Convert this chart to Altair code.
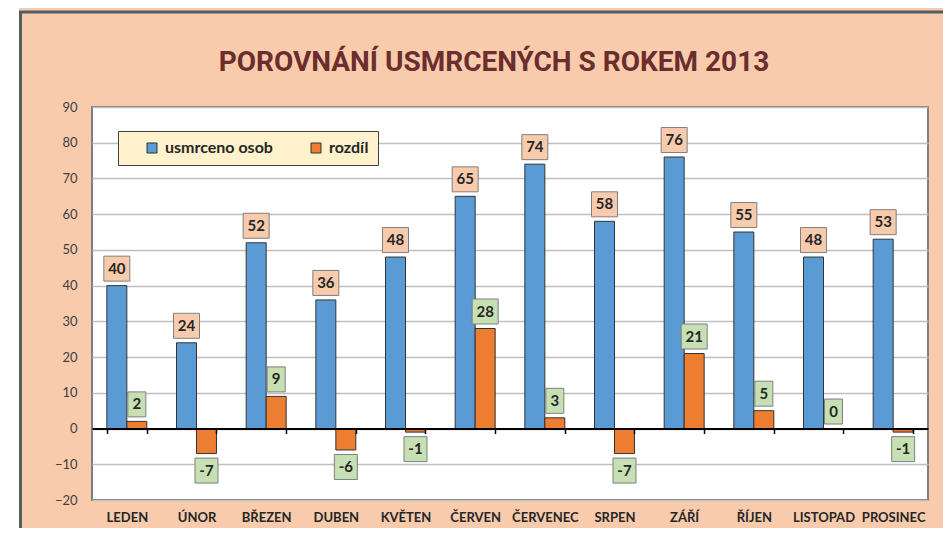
import altair as alt
import pandas as pd

months = ["LEDEN", "ÚNOR", "BŘEZEN", "DUBEN", "KVĚTEN", "ČERVEN",
          "ČERVENEC", "SRPEN", "ZÁŘÍ", "ŘÍJEN", "LISTOPAD", "PROSINEC"]
killed = [40, 24, 52, 36, 48, 65, 74, 58, 76, 55, 48, 53]
diff = [2, -7, 9, -6, -1, 28, 3, -7, 21, 5, 0, -1]
series_names = ["usmrceno osob", "rozdíl"]
y_ticks = [-20, -10, 0, 10, 20, 30, 40, 50, 60, 70, 80, 90]

rows = []
for m, k, d in zip(months, killed, diff):
    rows.append({"month": m, "series": series_names[0], "value": k, "label": str(k)})
    rows.append({"month": m, "series": series_names[1], "value": d, "label": str(d)})
df = pd.DataFrame(rows)

PEACH = "#F8CBAD"
BLUE = "#5B9BD5"
ORANGE = "#ED7D31"
GREEN = "#C6E0B4"
TXT = "#262626"
FONT = "Lato"

xenc = alt.X("month:N", sort=months, title=None,
             scale=alt.Scale(paddingInner=0.426, paddingOuter=0.213),
             axis=alt.Axis(orient="bottom", offset=-71.5, domainColor="#000000",
                           domainWidth=2, tickColor="#000000", tickWidth=1.5,
                           tickSize=5, tickBand="extent", labelPadding=78,
                           labelFont=FONT, labelFontWeight="bold", labelFontSize=13,
                           labelColor=TXT, labelAngle=0, grid=False, zindex=1))
xoff = alt.XOffset("series:N", sort=series_names, scale=alt.Scale(paddingInner=0))
yenc = alt.Y("value:Q", title=None,
             scale=alt.Scale(domain=[-20, 90], nice=False, zero=False),
             axis=alt.Axis(values=y_ticks, domain=False, ticks=False, tickSize=0,
                           labelPadding=15, labelFont=FONT, labelFontSize=13,
                           labelColor="#404040", gridColor="#BEBEBE",
                           gridWidth=1.5, labelOverlap=False, zindex=0))

base = alt.Chart(df)

one = pd.DataFrame({"a": [0]})
strip = alt.Chart(one).mark_rect(fill="white").encode(
    x=alt.value(-84), x2=alt.value(-73), y=alt.value(-99), y2=alt.value(430))
frame = alt.Chart(one).mark_rect(filled=False, stroke="#525E66", strokeWidth=3).encode(
    x=alt.value(-71.5), x2=alt.value(1200), y=alt.value(-95), y2=alt.value(1200))

bars = base.mark_bar(stroke="#333333", strokeWidth=1).encode(
    x=xenc, xOffset=xoff, y=yenc,
    color=alt.Color("series:N", sort=series_names, title=None,
                    scale=alt.Scale(domain=series_names, range=[BLUE, ORANGE]),
                    legend=alt.Legend(orient="none", legendX=26, legendY=24,
                                      direction="horizontal", fillColor="#FFF2CC",
                                      strokeColor="#404040", padding=9,
                                      symbolType="square", symbolSize=100,
                                      symbolStrokeColor="#333333", symbolStrokeWidth=1,
                                      symbolOffset=17, labelOffset=5,
                                      columnPadding=18, labelFont=FONT,
                                      labelFontWeight="bold", labelFontSize=16,
                                      labelColor=TXT)))


def boxes(cond, width, fill, offset):
    return base.transform_filter(cond).mark_rect(
        width=width, height=25, fill=fill, stroke="#7F7F7F", strokeWidth=1, yOffset=offset
    ).encode(x=xenc, xOffset=xoff, y=yenc)


def texts(cond, offset):
    return base.transform_filter(cond).mark_text(
        dy=offset, font=FONT, fontWeight="bold", fontSize=15, color=TXT, baseline="middle"
    ).encode(x=xenc, xOffset=xoff, y=yenc, text="label:N")


is_blue = alt.datum.series == series_names[0]
is_or = alt.datum.series == series_names[1]

blue_boxes = boxes(is_blue, 26, PEACH, -17)
o_pos1 = boxes(is_or & (alt.datum.value >= 0) & (alt.datum.value < 10), 18, GREEN, -17)
o_pos2 = boxes(is_or & (alt.datum.value >= 10), 26, GREEN, -17)
o_neg = boxes(is_or & (alt.datum.value < 0), 23, GREEN, 17)

blue_txt = texts(is_blue, -17)
o_txt_pos = texts(is_or & (alt.datum.value >= 0), -17)
o_txt_neg = texts(is_or & (alt.datum.value < 0), 17)

chart = alt.layer(
    strip, frame, bars, blue_boxes, o_pos1, o_pos2, o_neg, blue_txt, o_txt_pos, o_txt_neg
).properties(
    width=836, height=393,
    padding={"left": 84, "top": 99, "right": 15, "bottom": 28},
    autosize=alt.AutoSizeParams(type="none"),
    title=alt.TitleParams("POROVNÁNÍ USMRCENÝCH S ROKEM 2013", anchor="middle",
                          frame="group", baseline="alphabetic",
                          font="Roboto", fontSize=28, fontWeight="bold",
                          color="#6B2D2D", offset=0, dx=-16, dy=91),
).configure(background=PEACH).configure_view(fill="white", stroke="#7F7F7F", strokeWidth=2)

chart.save("out.html", embed_options={"renderer": "svg", "actions": False})
